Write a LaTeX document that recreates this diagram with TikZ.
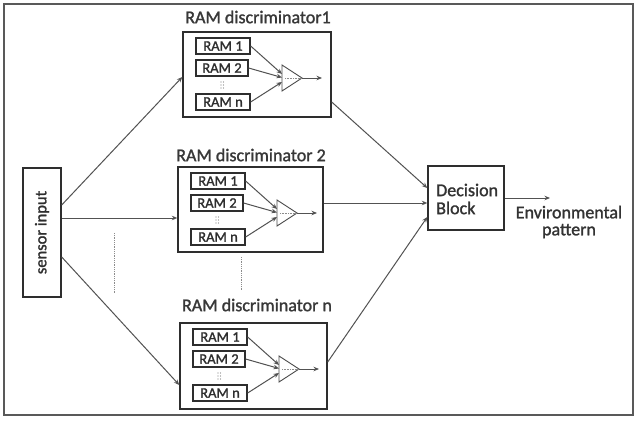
\documentclass[tikz,border=0pt]{standalone}
\usepackage{fontspec}
\setmainfont{Carlito}[RawFeature={embolden=1.4}]
\usetikzlibrary{arrows.meta,calc}
\tikzset{
  ln/.style={draw=black!68, line width=1pt},
  arr/.style={ln, -{Stealth[length=5.5pt,width=4.5pt]}},
  box/.style={draw=black!82, line width=1.4pt, inner sep=0pt},
  ram/.style={box, line width=1.3pt, minimum width=54pt, minimum height=16pt,
    font=\fontsize{14.5}{16}\selectfont, text=black!82},
  ttl/.style={font=\fontsize{18}{20}\selectfont, text=black!78},
  dotv/.style={draw=black!45, densely dotted, line width=0.8pt},
  dt/.style={fill=black!50, circle, inner sep=0pt, minimum size=1.1pt},
}
\newcommand\RamDisc[3]{%
\begin{scope}[shift={(#2,#3)}]
  \node[ram] (#1r1) at (40,14) {RAM 1};
  \node[ram, minimum width=52pt] (#1r2) at (39,36) {RAM 2};
  \node[ram] (#1rn) at (40,70) {RAM n};
  \foreach \yy in {50,53,56} {
    \node[dt] (#1da\yy) at (38,\yy) {};
    \node[dt] (#1db\yy) at (40.5,\yy) {};
  }
  \coordinate (#1t1) at (99,33);
  \coordinate (#1t2) at (99,59);
  \coordinate (#1ta) at (119,46);
  \draw[line width=0.9pt, draw=black!70] (#1t1) -- (#1ta) -- (#1t2) -- cycle;
  \coordinate (#1i1) at (99,42);
  \coordinate (#1i2) at (99,45.5);
  \coordinate (#1i3) at (99,50);
  \coordinate (#1o) at (139,46);
  \coordinate (#1d) at (102,46);
  \draw[arr] (#1r1.east) -- (#1i1);
  \draw[arr] (#1r2.east) -- (#1i2);
  \draw[arr] (#1rn.east) -- (#1i3);
  \draw[dotv, line width=0.6pt] (#1d) -- (#1ta);
  \draw[arr] (#1ta) -- (#1o);
\end{scope}}
\begin{document}
\begin{tikzpicture}[x=1pt,y=-1pt]
  \useasboundingbox (0,0) rectangle (638,424);
  \fill[white] (0,0) rectangle (638,424);
  \draw[draw=black!65, line width=1.6pt] (4,4) rectangle (633,415);

  % discriminator boxes
  \node[box, minimum width=148pt, minimum height=85pt] (d1) at (257,74.5) {};
  \node[box, minimum width=145pt, minimum height=85pt] (d2) at (250.5,209.5) {};
  \node[box, minimum width=147pt, minimum height=86pt] (dn) at (253.5,366) {};

  \node[ttl] (t1) at (258,17) {RAM discriminator1};
  \node[ttl] (t2) at (251,155) {RAM discriminator 2};
  \node[ttl] (tn) at (257,305) {RAM discriminator n};

  \RamDisc{a}{183}{32}
  \RamDisc{b}{178}{167}
  \RamDisc{c}{180}{323}

  % sensor input
  \node[box, minimum width=38pt, minimum height=129pt] (sen) at (42,232.5) {};
  \node[rotate=90, font=\fontsize{16.5}{18}\selectfont, text=black!82] (sent) at (sen.center) {sensor input};

  % decision block
  \node[box, minimum width=76pt, minimum height=64pt] (dec) at (466,198) {};
  \node[anchor=west, align=left, font=\fontsize{18}{18}\selectfont, text=black!80, inner sep=0pt] (dect) at (436,199) {Decision\\Block};

  % sensor connectors
  \draw[arr] ([yshift=27.5pt]sen.east) -- ([yshift=-2.5pt]d1.west);
  \draw[arr] ([yshift=14.5pt]sen.east) -- ([yshift=-8.5pt]d2.west);
  \draw[arr] ([yshift=-24.5pt]sen.east) -- ([yshift=-19pt]dn.west);

  % to decision block
  \coordinate (dm) at ([yshift=-5pt]dec.west);
  \draw[arr] ([yshift=-27.5pt]d1.east) -- ([yshift=10pt]dec.west);
  \draw[arr] (d2.east |- dm) -- (dm);
  \draw[arr] ([yshift=4pt]dn.east) -- ([yshift=-19pt]dec.west);

  % output
  \coordinate (out) at (550,198);
  \draw[arr] (dec.east) -- (out);
  \node[align=center, font=\fontsize{18}{17}\selectfont, text=black!80] (env) at (569,222) {Environmental\\pattern};

  % ellipsis dotted lines
  \coordinate (v1a) at (114,233);
  \coordinate (v1b) at (114,293);
  \draw[dotv] (v1a) -- (v1b);
  \coordinate (v2a) at (241,257);
  \coordinate (v2b) at (241,291);
  \draw[dotv] (v2a) -- (v2b);
\end{tikzpicture}
\end{document}
